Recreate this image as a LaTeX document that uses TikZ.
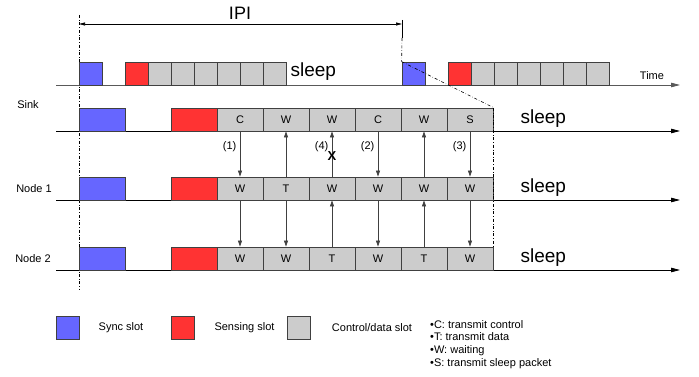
\documentclass[tikz,border=0pt]{standalone}
\usepackage{fontspec}
\setmainfont{Liberation Sans}
\usetikzlibrary{arrows.meta}
\definecolor{syncblue}{RGB}{102,102,255}
\definecolor{senred}{RGB}{255,51,51}
\definecolor{slotgray}{RGB}{204,204,204}

\begin{document}
\begin{tikzpicture}[x=1pt, y=-1pt,
	b/.style = {rectangle, draw=black!75, line width=0.8pt, inner sep=0pt, minimum height=23pt, font=\fontsize{11}{13}\selectfont},
	sm/.style = {b, minimum width=23pt},
	lg/.style = {b, minimum width=46pt},
	sy/.style = {fill=syncblue},
	se/.style = {fill=senred},
	cd/.style = {fill=slotgray},
	r/.style = {-{Triangle[length=6pt, width=4pt]}, line width=0.7pt, draw=black!75},
	ax/.style = {-{Triangle[length=9pt, width=4.5pt]}, line width=0.8pt},
	dd/.style = {dash dot, line width=0.6pt},
	lbl/.style = {font=\fontsize{11}{12.7}\selectfont},
	num/.style = {font=\fontsize{11}{13}\selectfont},
	slp/.style = {anchor=west, font=\fontsize{19}{22}\selectfont}
	]
	
	\useasboundingbox (0,0) rectangle (699,377);
	
	%Axes
	\coordinate	(t0)	at	(56, 85);
	\coordinate	(t1)	at	(680, 85);
	\coordinate	(sl0)	at	(56, 131);
	\coordinate	(sl1)	at	(680, 131);
	\coordinate	(nl0)	at	(56, 200);
	\coordinate	(nl1)	at	(680, 200);
	\coordinate	(ml0)	at	(56, 270);
	\coordinate	(ml1)	at	(680, 270);
	\draw[ax, draw=black!65]	(t0)	--	(t1);
	\draw[ax]	(sl0)	--	(sl1);
	\draw[ax]	(nl0)	--	(nl1);
	\draw[ax]	(ml0)	--	(ml1);
	\node[lbl]	(time)	at	(652, 76)	{Time};
	
	%IPI
	\coordinate	(v0)	at	(79, 15);
	\coordinate	(v1)	at	(79, 290);
	\coordinate	(i0)	at	(79, 24);
	\coordinate	(i1)	at	(402, 24);
	\coordinate	(w0)	at	(402, 20);
	\coordinate	(w1)	at	(402, 38);
	\draw[dd]	(v0)	--	(v1);
	\draw[{Triangle[length=6pt, width=3pt]}-{Triangle[length=6pt, width=3pt]}, line width=0.7pt]	(i0)	--	(i1);
	\draw[line width=0.7pt]	(w0)	--	(w1);
	\node[font=\fontsize{18}{20}\selectfont]	(ipi)	at	(240, 13)	{IPI};
	
	%Top row
	\node[sm, sy]	(a0)	at	(90.5, 73.5)	{};
	\node[sm, se]	(a1)	at	(136.5, 73.5)	{};
	\foreach \i in {2,...,7}
		\node[sm, cd]	(a\i)	at	({136.5+23*(\i-1)}, 73.5)	{};
	\node[slp]	(as)	at	(287, 72)	{sleep};
	\node[sm, sy]	(b0)	at	(413.5, 73.5)	{};
	\node[sm, se]	(b1)	at	(459.5, 73.5)	{};
	\foreach \i in {2,...,7}
		\node[sm, cd]	(b\i)	at	({459.5+23*(\i-1)}, 73.5)	{};
	
	%Sink
	\node[lbl]	(ls)	at	(28, 105)	{Sink};
	\node[lg, sy]	(s0)	at	(102, 119.5)	{};
	\node[lg, se]	(sr)	at	(194, 119.5)	{};
	\foreach \l [count=\i] in {C, W, W, C, W, S}
		\node[lg, cd]	(s\i)	at	({194+46*\i}, 119.5)	{\l};
	\node[slp]	(ss)	at	(517, 119)	{sleep};
	
	%Node 1
	\node[lbl]	(ln)	at	(34, 189)	{Node 1};
	\node[lg, sy]	(n0)	at	(102, 188.5)	{};
	\node[lg, se]	(nr)	at	(194, 188.5)	{};
	\foreach \l [count=\i] in {W, T, W, W, W, W}
		\node[lg, cd]	(n\i)	at	({194+46*\i}, 188.5)	{\l};
	\node[slp]	(ns)	at	(517, 188)	{sleep};
	
	%Node 2
	\node[lbl]	(lm)	at	(33, 259)	{Node 2};
	\node[lg, sy]	(m0)	at	(102, 258.5)	{};
	\node[lg, se]	(mr)	at	(194, 258.5)	{};
	\foreach \l [count=\i] in {W, W, T, W, T, W}
		\node[lg, cd]	(m\i)	at	({194+46*\i}, 258.5)	{\l};
	\node[slp]	(ms)	at	(517, 258)	{sleep};
	
	%Zoom lines
	\draw[dd]	(w1)	--	(b0.north west);
	\draw[dd]	(b0.north west)	--	(s6.north east);
	\draw[dd]	(s6.north east)	--	(m6.north east);
	
	%Messages
	\draw[r]	(s1.south)	--	node[pos=0.33, left, num]	{(1)}	(n1.north);
	\draw[r]	(n2.north)	--	(s2.south);
	\draw[r]	(n3.north)	--	node[pos=0.45, font=\fontsize{13}{14}\selectfont\bfseries, inner sep=0pt]	{X}
		node[pos=0.67, left, num]	{(4)}	(s3.south);
	\draw[r]	(s4.south)	--	node[pos=0.33, left, num]	{(2)}	(n4.north);
	\draw[r]	(n5.north)	--	(s5.south);
	\draw[r]	(s6.south)	--	node[pos=0.33, left, num]	{(3)}	(n6.north);
	
	\draw[r]	(n1.south)	--	(m1.north);
	\draw[r]	(n2.south)	--	(m2.north);
	\draw[r]	(m3.north)	--	(n3.south);
	\draw[r]	(n4.south)	--	(m4.north);
	\draw[r]	(m5.north)	--	(n5.south);
	\draw[r]	(n6.south)	--	(m6.north);
	
	%Legend
	\node[sm, sy]	(k0)	at	(67.5, 327.5)	{};
	\node[lbl]	(k0t)	at	(121, 328)	{Sync slot};
	\node[sm, se]	(k1)	at	(182.5, 327.5)	{};
	\node[lbl]	(k1t)	at	(244.5, 328)	{Sensing slot};
	\node[sm, cd]	(k2)	at	(298.5, 327.5)	{};
	\node[lbl]	(k2t)	at	(372, 328)	{Control/data slot};
	\node[lbl, anchor=north west, align=left, inner sep=0pt]	(key)	at	(430, 320)
		{•C: transmit control\\•T: transmit data\\•W: waiting\\•S: transmit sleep packet};
\end{tikzpicture}
\end{document}
